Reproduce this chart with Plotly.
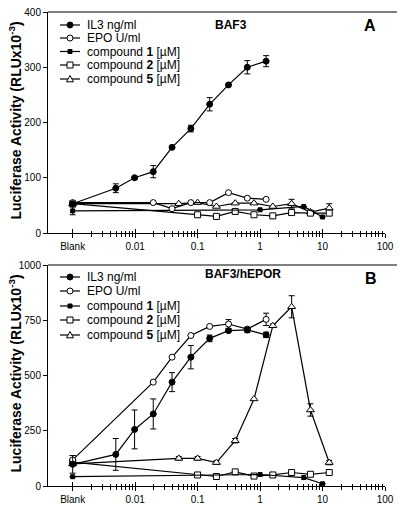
import plotly.graph_objects as go

# ---------------- data ----------------
blank = 0.001
il3_conc = [blank, 0.0049, 0.0098, 0.0195, 0.039, 0.078, 0.156, 0.3125, 0.625, 1.25]
epo_conc = [blank, 0.0195, 0.039, 0.078, 0.156, 0.3125, 0.625, 1.25]
c1_conc = [blank, 1, 5, 10]
c2_conc = [blank, 0.1, 0.2, 0.4, 0.8, 1.6, 3.2, 6.4, 12.8]
c5_conc = [blank, 0.05, 0.1, 0.2, 0.4, 0.8, 1.6, 3.2, 6.4, 12.8]

# Panel A: BAF3
il3_a = [53, 81, 100, 111, 155, 189, 233, 268, 300, 311]
il3_a_err = [0, 8, 0, 11, 0, 6, 12, 0, 12, 10]
epo_a = [55, 55, 44, 55, 55, 73, 63, 61]
epo_a_err = [0, 0, 0, 0, 0, 0, 0, 0]
c1_a = [40, 42, 48, 29]
c1_a_err = [7, 0, 0, 0]
c2_a = [53, 33, 30, 39, 33, 31, 37, 36, 36]
c2_a_err = [0, 0, 0, 3, 0, 0, 0, 0, 0]
c5_a = [53, 53, 55, 48, 54, 54, 48, 53, 38, 45]
c5_a_err = [0, 0, 0, 0, 0, 0, 0, 8, 0, 8]

# Panel B: BAF3/hEPOR
il3_b = [98, 143, 256, 326, 470, 583, 668, 703, 706, 684]
il3_b_err = [40, 72, 88, 68, 43, 53, 15, 0, 12, 12]
epo_b = [118, 470, 583, 681, 722, 733, 710, 754]
epo_b_err = [20, 0, 0, 0, 0, 20, 0, 28]
c1_b = [42, 52, 38, 10]
c1_b_err = [0, 0, 0, 0]
c2_b = [108, 50, 43, 64, 45, 50, 61, 53, 61]
c2_b_err = [0, 0, 0, 0, 0, 0, 0, 0, 0]
c5_b = [100, 125, 125, 106, 205, 394, 725, 811, 344, 106]
c5_b_err = [0, 8, 8, 8, 10, 0, 8, 50, 28, 10]

x_tickvals = [0.001, 0.01, 0.1, 1, 10, 100]
x_ticktext = ["Blank", "0.01", "0.1", "1", "10", "100"]
ya_ticks = [0, 100, 200, 300, 400]
yb_ticks = [0, 250, 500, 750, 1000]
legend_names = ["IL3 ng/ml", "EPO U/ml", "compound <b>1</b> [\u00b5M]",
                "compound <b>2</b> [\u00b5M]", "compound <b>5</b> [\u00b5M]"]

# ---------------- styling ----------------
FONT = "Arial, Liberation Sans, sans-serif"
W, H = 400, 511
ML, MR, MT, MB = 48, 15, 12, 25
PW = W - ML - MR
PH = H - MT - MB
A_TOP, A_BOT = 12, 233
B_TOP, B_BOT = 265, 486


def px(x):
    return (x - ML) / PW


def py(y):
    return (H - MB - y) / PH


styles = [
    dict(symbol="circle", size=6, color="black", line=dict(color="black", width=1)),
    dict(symbol="circle", size=6, color="white", line=dict(color="black", width=1)),
    dict(symbol="square", size=4, color="black", line=dict(color="black", width=1)),
    dict(symbol="square", size=6, color="white", line=dict(color="black", width=1)),
    dict(symbol="triangle-up", size=7, color="white", line=dict(color="black", width=1)),
]

fig = go.Figure()


def add_series(xs, ys, errs, style, xa, ya):
    fig.add_trace(go.Scatter(
        x=xs, y=ys, mode="lines+markers", xaxis=xa, yaxis=ya,
        line=dict(color="black", width=1.2),
        marker=style,
        error_y=dict(type="data", array=errs, visible=True, color="black",
                     thickness=1, width=3),
        showlegend=False, cliponaxis=False, hoverinfo="skip",
    ))


panel_a = [(il3_conc, il3_a, il3_a_err), (epo_conc, epo_a, epo_a_err),
           (c1_conc, c1_a, c1_a_err), (c2_conc, c2_a, c2_a_err),
           (c5_conc, c5_a, c5_a_err)]
panel_b = [(il3_conc, il3_b, il3_b_err), (epo_conc, epo_b, epo_b_err),
           (c1_conc, c1_b, c1_b_err), (c2_conc, c2_b, c2_b_err),
           (c5_conc, c5_b, c5_b_err)]

# draw order: compounds first, then EPO, IL3 on top
for i in [4, 3, 2, 1, 0]:
    xs, ys, es = panel_a[i]
    add_series(xs, ys, es, styles[i], "x", "y")
for i in [4, 3, 2, 1, 0]:
    xs, ys, es = panel_b[i]
    add_series(xs, ys, es, styles[i], "x2", "y2")

# empty traces to host the overlay axes (inner half of the crossing ticks)
fig.add_trace(go.Scatter(x=[], y=[], xaxis="x3", yaxis="y", showlegend=False))
fig.add_trace(go.Scatter(x=[], y=[], xaxis="x4", yaxis="y2", showlegend=False))

minor_vals = [m * d for d in [0.001, 0.01, 0.1, 1, 10] for m in range(2, 10)]
xrange_log = [-3.395, 2]

def xaxis_common(anchor, ticks, labels):
    return dict(
        type="log", range=xrange_log, anchor=anchor, domain=[0, 1],
        tickmode="array", tickvals=x_tickvals, ticktext=x_ticktext,
        ticks=ticks, ticklen=4, tickwidth=1, tickcolor="black",
        showticklabels=labels,
        tickfont=dict(family=FONT, size=10, color="black"),
        minor=dict(tickmode="array", tickvals=minor_vals, ticks=ticks,
                   ticklen=2.5, tickwidth=1, tickcolor="black", showgrid=False),
        showline=labels, linecolor="black", linewidth=1,
        showgrid=False, zeroline=False, fixedrange=True,
    )


def yaxis_common(anchor, domain, rng, tv):
    return dict(
        anchor=anchor, domain=domain, range=rng, tickmode="array", tickvals=tv,
        ticks="outside", ticklen=4, tickwidth=1, tickcolor="black",
        tickfont=dict(family=FONT, size=10, color="black"),
        showline=True, linecolor="black", linewidth=1,
        showgrid=False, zeroline=False, fixedrange=True,
    )


x3 = xaxis_common("y", "inside", False)
x3["overlaying"] = "x"
x4 = xaxis_common("y2", "inside", False)
x4["overlaying"] = "x2"

fig.update_layout(
    width=W, height=H,
    margin=dict(l=ML, r=MR, t=MT, b=MB, pad=0, autoexpand=False),
    paper_bgcolor="white", plot_bgcolor="white",
    font=dict(family=FONT, color="black"),
    showlegend=False, hovermode=False,
    xaxis=xaxis_common("y", "outside", True),
    xaxis2=xaxis_common("y2", "outside", True),
    xaxis3=x3, xaxis4=x4,
    yaxis=yaxis_common("x", [py(A_BOT), py(A_TOP)], [0, 400], ya_ticks),
    yaxis2=yaxis_common("x2", [py(B_BOT), py(B_TOP)], [0, 1000], yb_ticks),
)

shapes = []
annotations = []


def note(text, x, y, size, xanchor="center", angle=0):
    annotations.append(dict(
        text=text, x=px(x), y=py(y), xref="paper", yref="paper",
        xanchor=xanchor, yanchor="middle", textangle=angle, showarrow=False,
        font=dict(family=FONT, size=size, color="black")))


# top frame lines
for top in [A_TOP, B_TOP]:
    shapes.append(dict(type="line", xref="paper", yref="paper",
                       x0=0, x1=px(397), y0=py(top), y1=py(top),
                       line=dict(color="black", width=1)))

# panel texts
note("<b>BAF3</b>", 231, 25, 12)
note("<b>A</b>", 370, 25, 16)
note("<b>BAF3/hEPOR</b>", 243, 274, 12)
note("<b>B</b>", 371, 278, 16)

ytitle = "<b>Luciferase Activity (RLUx10<sup>-3</sup>)</b>"
for top, bot in [(A_TOP, A_BOT), (B_TOP, B_BOT)]:
    note(ytitle, 15, (top + bot) / 2 - 2, 14, angle=-90)


# manual legends
def add_legend(rows_y):
    for i, (name, yy) in enumerate(zip(legend_names, rows_y)):
        shapes.append(dict(type="line", xref="paper", yref="paper",
                           x0=px(60), x1=px(80), y0=py(yy), y1=py(yy),
                           line=dict(color="black", width=1.2)))
        cx = 70
        st = styles[i]
        r = st["size"] / 2
        fill = st["color"]
        if st["symbol"] == "circle":
            shapes.append(dict(type="circle", xref="paper", yref="paper",
                               x0=px(cx - r), x1=px(cx + r), y0=py(yy + r), y1=py(yy - r),
                               fillcolor=fill, line=dict(color="black", width=1)))
        elif st["symbol"] == "square":
            shapes.append(dict(type="rect", xref="paper", yref="paper",
                               x0=px(cx - r), x1=px(cx + r), y0=py(yy + r), y1=py(yy - r),
                               fillcolor=fill, line=dict(color="black", width=1)))
        else:
            path = "M {} {} L {} {} L {} {} Z".format(
                px(cx - r), py(yy + r * 0.8), px(cx + r), py(yy + r * 0.8),
                px(cx), py(yy - r))
            shapes.append(dict(type="path", xref="paper", yref="paper", path=path,
                               fillcolor=fill, line=dict(color="black", width=1)))
        note(name, 85, yy, 12, xanchor="left")


add_legend([25, 38, 51.5, 65, 79])
add_legend([277, 291, 306, 320, 335])

fig.update_layout(shapes=shapes, annotations=annotations)
fig.write_html("out.html",
               config={"displayModeBar": False, "staticPlot": True},
               post_script="document.body.style.margin='0';document.body.style.padding='0';")
